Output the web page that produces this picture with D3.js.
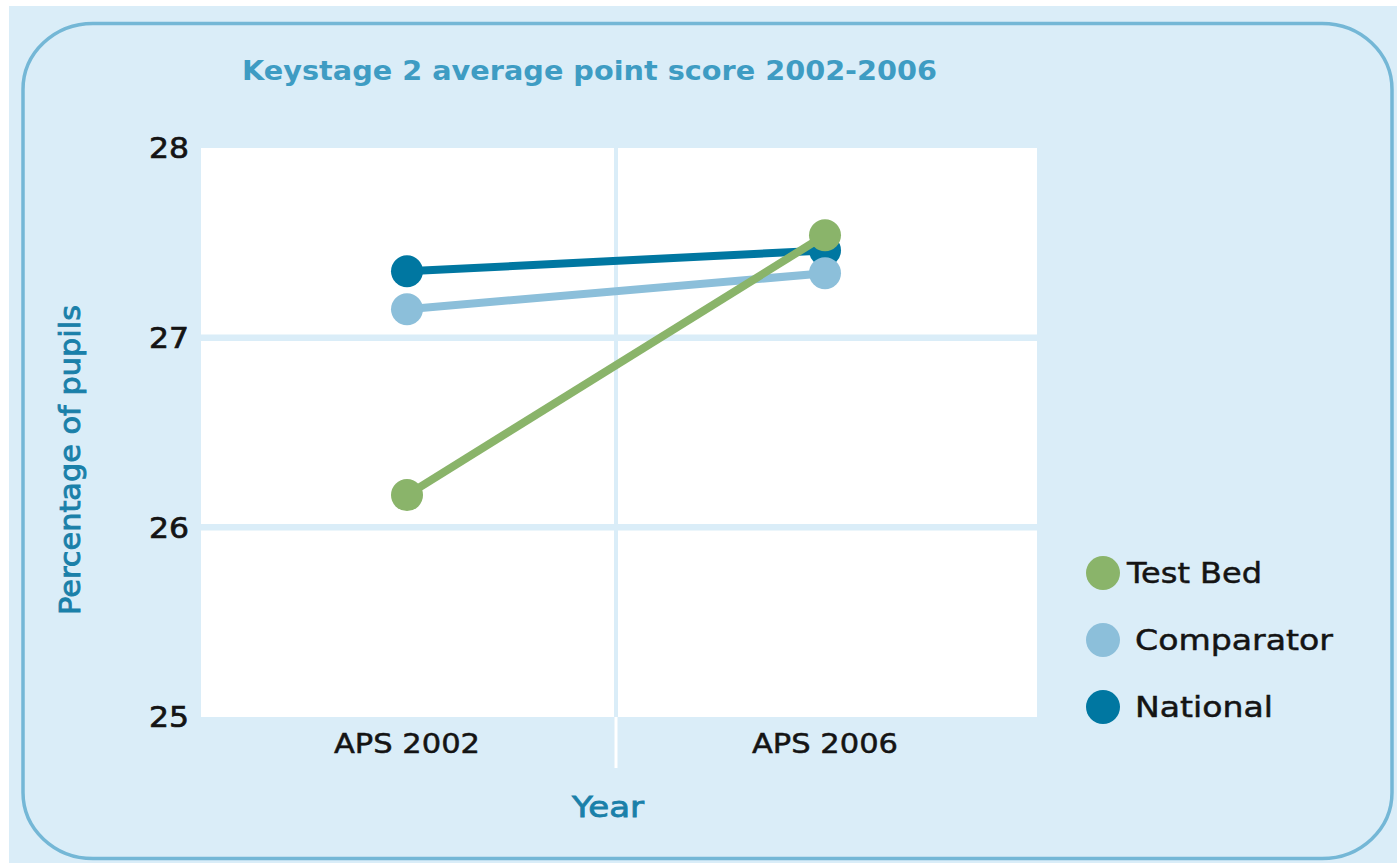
<!DOCTYPE html>
<html>
<head>
<meta charset="utf-8">
<script src="https://cdn.jsdelivr.net/npm/d3@7"></script>
<style>
  html, body { margin: 0; padding: 0; background: #ffffff; }
  svg { display: block; }
</style>
</head>
<body>
<svg id="chart" width="1397" height="867"></svg>
<script>
// ---- data ----
const categories = ["APS 2002", "APS 2006"];
const seriesNames = ["National", "Comparator", "Test Bed"];
const testBed = [26.17, 27.54];
const comparator = [27.15, 27.34];
const national = [27.35, 27.46];
const yTicks = [25, 26, 27, 28];
const legendNames = ["Test Bed", "Comparator", "National"];
const titleText = "Keystage 2 average point score 2002-2006";
const yAxisTitle = "Percentage of pupils";
const xAxisTitle = "Year";

const colors = { "Test Bed": "#8AB46A", "Comparator": "#8CBFDA", "National": "#0077A1" };
const valuesBy = { "Test Bed": testBed, "Comparator": comparator, "National": national };

const svg = d3.select("#chart");
const W = 1397, H = 867;
const bg = "#DAEDF8";

// background
svg.append("rect").attr("x", 0).attr("y", 0).attr("width", W).attr("height", H).attr("fill", "#ffffff");
svg.append("rect").attr("x", 9).attr("y", 6).attr("width", W - 9).attr("height", 857).attr("fill", bg);
// rounded frame
svg.append("rect").attr("x", 23).attr("y", 23.5).attr("width", 1369).attr("height", 835)
  .attr("rx", 70).attr("ry", 66)
  .attr("fill", "none").attr("stroke", "#74B7D6").attr("stroke-width", 3.5);

// plot area
const plot = { left: 201, right: 1037, top: 148, bottom: 717 };
const x = d3.scalePoint().domain(categories).range([198, 1034]).padding(0.5);
const y = d3.scaleLinear().domain([25, 28]).range([plot.bottom, plot.top]);

svg.append("rect").attr("x", plot.left).attr("y", plot.top)
  .attr("width", plot.right - plot.left).attr("height", plot.bottom - plot.top)
  .attr("fill", "#ffffff");

// horizontal grid lines
svg.append("g").selectAll("line").data(yTicks.filter(t => t > 25 && t < 28)).join("line")
  .attr("x1", plot.left).attr("x2", plot.right)
  .attr("y1", d => y(d)).attr("y2", d => y(d))
  .attr("stroke", bg).attr("stroke-width", 6.5);

// vertical divider between categories
const midX = (x(categories[0]) + x(categories[1])) / 2;
svg.append("line").attr("x1", midX).attr("x2", midX).attr("y1", plot.top).attr("y2", plot.bottom)
  .attr("stroke", bg).attr("stroke-width", 4);
svg.append("line").attr("x1", midX).attr("x2", midX).attr("y1", plot.bottom).attr("y2", 768)
  .attr("stroke", "#ffffff").attr("stroke-width", 3);

// y tick labels
svg.append("g").selectAll("text").data(yTicks).join("text")
  .attr("x", 189).attr("y", d => y(d)).attr("dy", "0.36em")
  .attr("text-anchor", "end")
  .attr("font-family", "DejaVu Sans, sans-serif").attr("font-size", 29)
  .attr("fill", "#141414").attr("stroke", "#141414").attr("stroke-width", 0.7)
  .attr("textLength", 40).attr("lengthAdjust", "spacingAndGlyphs")
  .text(d => d);

// x tick labels
svg.append("g").selectAll("text").data(categories).join("text")
  .attr("x", d => x(d)).attr("y", 753)
  .attr("text-anchor", "middle")
  .attr("font-family", "DejaVu Sans, sans-serif").attr("font-size", 27)
  .attr("fill", "#141414").attr("stroke", "#141414").attr("stroke-width", 0.5)
  .attr("textLength", 146).attr("lengthAdjust", "spacingAndGlyphs")
  .text(d => d);

// axis titles
svg.append("text").attr("x", 608).attr("y", 817).attr("text-anchor", "middle")
  .attr("font-family", "DejaVu Sans, sans-serif").attr("font-size", 28)
  .attr("fill", "#1A80A9").attr("stroke", "#1A80A9").attr("stroke-width", 0.8)
  .attr("textLength", 72).attr("lengthAdjust", "spacingAndGlyphs")
  .text(xAxisTitle);

svg.append("text").attr("transform", "translate(80,460) rotate(-90)")
  .attr("text-anchor", "middle")
  .attr("font-family", "DejaVu Sans, sans-serif").attr("font-size", 28)
  .attr("fill", "#1A80A9").attr("stroke", "#1A80A9").attr("stroke-width", 0.9)
  .attr("textLength", 310).attr("lengthAdjust", "spacingAndGlyphs")
  .text(yAxisTitle);

// title
svg.append("text").attr("x", 242).attr("y", 80)
  .attr("font-family", "DejaVu Sans, sans-serif").attr("font-size", 27).attr("font-weight", "bold")
  .attr("fill", "#3E9CC3")
  .attr("textLength", 695).attr("lengthAdjust", "spacingAndGlyphs")
  .text(titleText);

// series lines and markers
const line = d3.line().x((d, i) => x(categories[i])).y(d => y(d));
seriesNames.forEach(name => {
  const vals = valuesBy[name];
  const g = svg.append("g");
  g.append("path").attr("d", line(vals)).attr("fill", "none")
    .attr("stroke", colors[name]).attr("stroke-width", 8);
  g.selectAll("circle").data(vals).join("circle")
    .attr("cx", (d, i) => x(categories[i])).attr("cy", d => y(d)).attr("r", 16)
    .attr("fill", colors[name]);
});

// legend
const legendY = [573, 640, 707];
const legendTextW = { "Test Bed": 135, "Comparator": 198, "National": 138 };
const legendTextX = { "Test Bed": 1127, "Comparator": 1135, "National": 1135 };
const lg = svg.append("g");
legendNames.forEach((name, i) => {
  lg.append("circle").attr("cx", 1103).attr("cy", legendY[i]).attr("r", 17).attr("fill", colors[name]);
  lg.append("text").attr("x", legendTextX[name]).attr("y", legendY[i]).attr("dy", "0.36em")
    .attr("font-family", "DejaVu Sans, sans-serif").attr("font-size", 29)
    .attr("fill", "#141414").attr("stroke", "#141414").attr("stroke-width", 0.5)
    .attr("textLength", legendTextW[name]).attr("lengthAdjust", "spacingAndGlyphs")
    .text(name);
});
</script>
</body>
</html>
